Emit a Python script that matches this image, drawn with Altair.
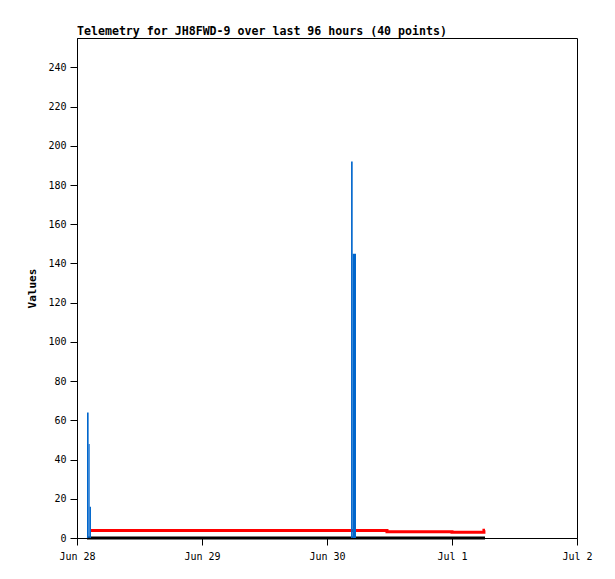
import altair as alt
import pandas as pd

# Blue series (filled impulses/steps)
blue_start = ["2024-06-28T01:55:00Z", "2024-06-28T02:14:00Z", "2024-06-28T02:26:00Z",
              "2024-06-30T04:37:00Z", "2024-06-30T04:56:00Z"]
blue_end = ["2024-06-28T02:14:00Z", "2024-06-28T02:26:00Z", "2024-06-28T02:41:00Z",
            "2024-06-30T04:56:00Z", "2024-06-30T05:34:00Z"]
blue_val = [64, 48, 16, 192, 145]

# Red series (step line)
red_time = ["2024-06-28T02:41:00Z", "2024-06-30T11:31:00Z", "2024-07-01T00:00:00Z",
            "2024-07-01T06:08:00Z", "2024-07-01T06:20:00Z"]
red_val = [3.8, 3.2, 2.9, 4.0, 4.0]

# Black series (zero line)
black_time = ["2024-06-28T01:55:00Z", "2024-07-01T06:20:00Z"]
black_val = [0, 0]

tick_days = [(6, 28), (6, 29), (6, 30), (7, 1), (7, 2)]
title_text = "Telemetry for JH8FWD-9 over last 96 hours (40 points)"

blue_df = pd.DataFrame({"start": blue_start, "end": blue_end, "value": blue_val})
red_df = pd.DataFrame({"time": red_time, "value": red_val})
black_df = pd.DataFrame({"time": black_time, "value": black_val})

font = "DejaVu Sans Mono"

x_scale = alt.Scale(type="utc",
                    domain=[alt.DateTime(year=2024, month=6, date=28, utc=True),
                            alt.DateTime(year=2024, month=7, date=2, utc=True)])
y_scale = alt.Scale(domain=[0, 255], nice=False, zero=True)

x_axis = alt.Axis(values=[alt.DateTime(year=2024, month=m, date=d, utc=True) for m, d in tick_days],
                  labelExpr="utcFormat(datum.value, '%b %-d')", title=None, grid=False,
                  labelAlign="center", labelFlush=False, labelOverlap=False, labelBound=False,
                  tickSize=7, labelPadding=6, labelFont=font, labelFontSize=10,
                  labelColor="black", domainColor="black", tickColor="black")
y_axis = alt.Axis(values=list(range(0, 241, 20)), title="Values", grid=False,
                  tickSize=7, labelPadding=4, labelFont=font, labelFontSize=10,
                  labelColor="black", domainColor="black", tickColor="black",
                  titleFont=font, titleFontSize=11, titleFontWeight="bold",
                  titleColor="black", titleX=-40)

red = alt.Chart(red_df).mark_line(color="#ff0000", strokeWidth=3, interpolate="step-after").encode(
    x=alt.X("time:T", scale=x_scale, axis=x_axis),
    y=alt.Y("value:Q", scale=y_scale, axis=y_axis),
)
black = alt.Chart(black_df).mark_line(color="#000000", strokeWidth=3).encode(
    x=alt.X("time:T", scale=x_scale),
    y=alt.Y("value:Q", scale=y_scale),
)
blue = alt.Chart(blue_df).mark_rect(color="#0066cc").encode(
    x=alt.X("start:T", scale=x_scale),
    x2="end:T",
    y=alt.Y("value:Q", scale=y_scale),
    y2=alt.datum(0),
)

chart = alt.layer(red, black, blue).properties(
    width=500, height=500,
    title=alt.TitleParams(title_text, anchor="start", frame="group", font=font, fontSize=11.6,
                          fontWeight="bold", color="black", offset=0),
    autosize=alt.AutoSizeParams(type="none"),
    padding={"left": 69, "top": 30, "right": 30, "bottom": 33},
).configure(background="white", view=alt.ViewConfig(stroke="black", strokeWidth=1))

chart.save("out.html", embed_options={"renderer": "svg", "actions": False})
